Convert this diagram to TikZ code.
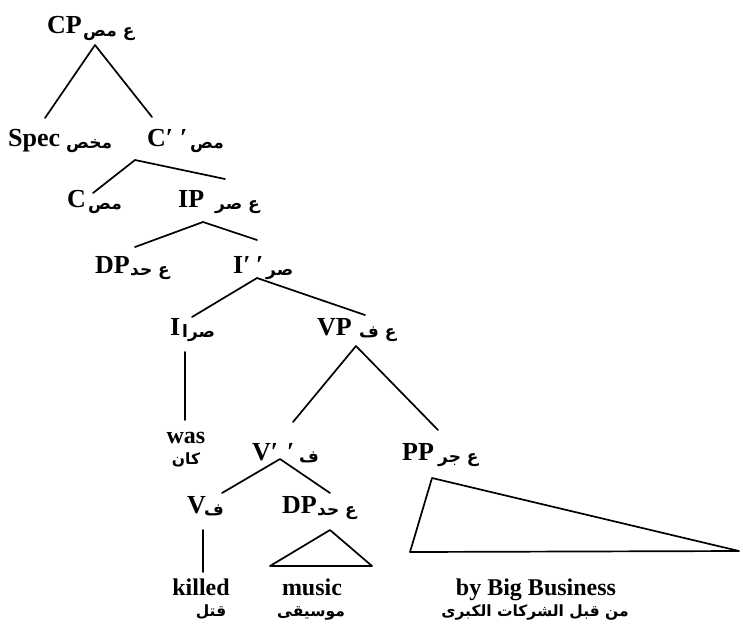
\documentclass[tikz,border=0pt]{standalone}
\usepackage{fontspec}
\setmainfont{Liberation Serif}
\newfontfamily\arabicfont[Script=Arabic]{DejaVu Sans}
\TeXXeTstate=1
\tikzset{
  en/.style={font=\fontsize{26}{28}\selectfont\bfseries, inner sep=0pt, anchor=base west},
  ar/.style={font=\fontsize{17}{19}\selectfont\arabicfont\bfseries, inner sep=0pt, anchor=base west},
  wd/.style={font=\fontsize{24}{26}\selectfont\bfseries, inner sep=0pt, anchor=base},
  arw/.style={font=\fontsize{15.5}{18}\selectfont\arabicfont\bfseries, inner sep=0pt, anchor=base},
  br/.style={line width=1.7pt, line cap=round, line join=round},
}
\begin{document}
\begin{tikzpicture}[x=1pt,y=-1pt]
\useasboundingbox (0,0) rectangle (743,625);
% labels
\node[en] (cp) at (47,33) {CP};
\node[ar] (cpA) at (83,36) {\beginR ع مص\endR};
\node[en] (spec) at (8,146) {Spec};
\node[ar] (specA) at (66,148) {\beginR مخص\endR};
\node[en] (cbar) at (147,146) {C′};
\node[en] (cbarP) at (180,146) {′};
\node[ar] (cbarA) at (190,148) {\beginR مص\endR};
\node[en] (c) at (67,207) {C};
\node[ar] (cA) at (88,209) {\beginR مص\endR};
\node[en] (ip) at (178,207) {IP};
\node[ar] (ipA) at (215,209) {\beginR ع صر\endR};
\node[en] (dp1) at (95,273) {DP};
\node[ar] (dp1A) at (130,275) {\beginR ع حد\endR};
\node[en] (ibar) at (233,273) {I′};
\node[en] (ibarP) at (256,273) {′};
\node[ar] (ibarA) at (266,275) {\beginR صر\endR};
\node[en] (i) at (170,335) {I};
\node[ar] (iA) at (182,337) {\beginR صرا\endR};
\node[en] (vp) at (317,335) {VP};
\node[ar] (vpA) at (359,337) {\beginR ع ف\endR};
\node[wd] (was) at (186,443) {was};
\node[arw] (wasA) at (186,464) {\beginR كان\endR};
\node[en] (vbar) at (252,460) {V′};
\node[en] (vbarP) at (287,460) {′};
\node[ar] (vbarA) at (299,462) {\beginR ف\endR};
\node[en] (pp) at (402,460) {PP};
\node[ar] (ppA) at (438,462) {\beginR ع جر\endR};
\node[en] (v) at (187,513) {V};
\node[ar] (vA) at (204,515) {\beginR ف\endR};
\node[en] (dp2) at (282,513) {DP};
\node[ar] (dp2A) at (317,515) {\beginR ع حد\endR};
\node[wd] (killed) at (201,595) {killed};
\node[arw] (killedA) at (211,616) {\beginR قتل\endR};
\node[wd] (music) at (312,595) {music};
\node[arw] (musicA) at (311,616) {\beginR موسيقى\endR};
\node[wd] (bbb) at (536,595) {by Big Business};
\node[arw] (bbbA) at (535,616) {\beginR من قبل الشركات الكبرى\endR};
% branch points
\coordinate (cpT) at (95,45);   \coordinate (cpL) at (45,118);  \coordinate (cpR) at (152,117);
\coordinate (cbT) at (135,160); \coordinate (cbL) at (93,193);  \coordinate (cbR) at (225,179);
\coordinate (ipT) at (203,222); \coordinate (ipL) at (135,247); \coordinate (ipR) at (257,240);
\coordinate (ibT) at (257,278); \coordinate (ibL) at (192,317); \coordinate (ibR) at (365,315);
\coordinate (iT) at (185,352);  \coordinate (iB) at (185,420);
\coordinate (vpT) at (356,346); \coordinate (vpL) at (293,422); \coordinate (vpR) at (438,430);
\coordinate (vbT) at (280,459); \coordinate (vbL) at (222,493); \coordinate (vbR) at (330,493);
\coordinate (vT) at (203,530);  \coordinate (vB) at (203,572);
\coordinate (dT) at (330,530);  \coordinate (dL) at (270,566);  \coordinate (dR) at (372,566);
\coordinate (pT) at (432,478);  \coordinate (pL) at (410,552);  \coordinate (pR) at (739,551);
% branches
\draw[br] (cpL) -- (cpT) -- (cpR);
\draw[br] (cbL) -- (cbT) -- (cbR);
\draw[br] (ipL) -- (ipT) -- (ipR);
\draw[br] (ibL) -- (ibT) -- (ibR);
\draw[br] (iT) -- (iB);
\draw[br] (vpL) -- (vpT) -- (vpR);
\draw[br] (vbL) -- (vbT) -- (vbR);
\draw[br] (vT) -- (vB);
\draw[br] (dT) -- (dL) -- (dR) -- cycle;
\draw[br] (pT) -- (pL) -- (pR) -- cycle;
\end{tikzpicture}
\end{document}
